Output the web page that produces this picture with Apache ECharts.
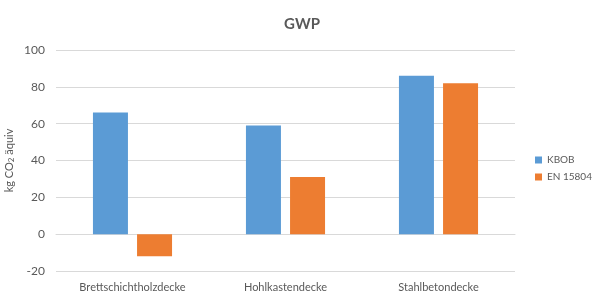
<!DOCTYPE html>
<html><head><meta charset="utf-8">
<script src="https://cdn.jsdelivr.net/npm/echarts@6/dist/echarts.min.js"></script>
<style>html,body{margin:0;padding:0;background:#fff}#c{width:593px;height:293px}</style>
</head><body><div id="c"></div>
<script>
const categories = ['Brettschichtholzdecke', 'Hohlkastendecke', 'Stahlbetondecke'];
const kbob = [66, 59, 86];
const en15804 = [-12, 31, 82];
const seriesNames = ['KBOB', 'EN 15804'];
const yTicks = {min: -20, max: 100, interval: 20};

const chart = echarts.init(document.getElementById('c'));
chart.setOption({
  animation: false,
  textStyle: {fontFamily: 'Lato'},
  title: {text: 'GWP', left: 297, top: 12, textAlign: 'center',
    textStyle: {fontSize: 15, fontWeight: 'bold', color: '#595959', fontFamily: 'Lato'}},
  legend: {orient: 'vertical', left: 535, top: 155, padding: 0, itemWidth: 7, itemHeight: 7, itemGap: 7,
    icon: 'rect', data: seriesNames,
    textStyle: {fontSize: 10, color: '#595959'}},
  grid: {left: 56, right: 78, top: 50, bottom: 22, containLabel: false, outerBoundsMode: 'none'},
  xAxis: {type: 'category', data: categories,
    axisLine: {lineStyle: {color: '#d9d9d9'}}, axisTick: {show: false},
    axisLabel: {fontSize: 11, color: '#595959', margin: 11}},
  yAxis: {type: 'value', min: yTicks.min, max: yTicks.max, interval: yTicks.interval,
    name: '{a|kg CO}{s|2}{a| äquiv}', nameLocation: 'middle', nameGap: 41, nameRotate: 90, nameMoveOverlap: false,
    nameTextStyle: {rich: {a: {fontSize: 11, color: '#595959', fontFamily: 'Lato'}, s: {fontSize: 8, color: '#595959', verticalAlign: 'bottom', padding: [4,0,0,0], fontFamily: 'Lato'}}},
    axisLine: {show: false}, axisTick: {show: false},
    axisLabel: {fontSize: 12, color: '#595959', margin: 11},
    splitLine: {lineStyle: {color: '#d9d9d9'}}},
  series: [
    {name: seriesNames[0], type: 'bar', data: kbob, barWidth: 35, barGap: '26%', itemStyle: {color: '#5b9bd5'}},
    {name: seriesNames[1], type: 'bar', data: en15804, barWidth: 35, barGap: '26%', itemStyle: {color: '#ed7d31'}}
  ]
});
</script></body></html>
